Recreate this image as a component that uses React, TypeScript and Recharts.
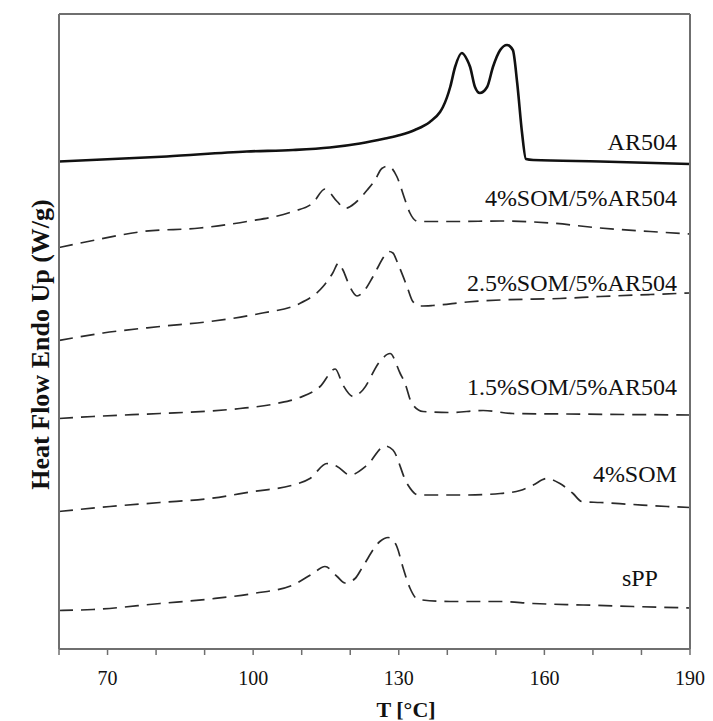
import { LineChart, Line, XAxis, YAxis, ReferenceDot } from "recharts";

// x axis: temperature, °C
const xTicks = [60, 70, 80, 90, 100, 110, 120, 130, 140, 150, 160, 170, 180, 190];
const xTickLabels = [70, 100, 130, 160, 190];

// DSC heating traces [T, heat flow], arbitrary units, stacked with offsets
const ar504: [number, number][] = [
  [60, 97.5], [82.2, 98.5], [98.7, 99.5], [108.2, 99.8], [115.8, 100.3],
  [122, 101.1], [127.2, 102.1], [130.3, 102.8], [133.3, 103.8], [136.4, 105.4],
  [138.5, 107.4], [139.1, 108.4], [140.6, 112.4], [141.6, 116.4], [143, 119.2],
  [144.1, 117.8], [144.7, 116.4], [145.7, 112.4], [146.7, 111.2], [148.2, 112.4],
  [149.4, 116.4], [150.9, 119.8], [152.3, 120.8], [153.5, 119.8], [154.4, 113.2],
  [155.4, 103.2], [156.2, 98], [157.7, 97.8], [171.5, 97.5], [190, 97],
];

const som4ar5: [number, number][] = [
  [60, 80.3], [67, 81.7], [77.3, 83.5], [89, 84.2], [98.7, 85.5],
  [108.2, 87.5], [112.3, 89.2], [114.8, 92], [117.3, 89.5], [118.9, 88.1],
  [121, 89.2], [123.5, 91.8], [125.1, 93.8], [126.5, 96.1], [127.8, 96.6],
  [129.6, 94.5], [131.3, 89.8], [132.3, 87.2], [134, 85.5], [142, 85.5],
  [150.9, 85.6], [161.2, 85.2], [171.5, 84.2], [181.8, 83.5], [190, 83],
];

const som25ar5: [number, number][] = [
  [60, 61.7], [69.1, 63.2], [80.8, 64.5], [91.1, 65.5], [101.4, 67.1],
  [109.6, 69.1], [114.4, 72.5], [116.4, 75.2], [117.6, 77.2], [118.5, 75.8],
  [119.9, 72.5], [121.4, 70.6], [123, 71.8], [124.7, 74.5], [127.2, 78.8],
  [128, 79.5], [128.8, 79.2], [129.8, 77.1], [131.7, 72.5], [132.9, 69.5],
  [134.4, 68.6], [137, 68.7], [144.1, 69.4], [150.9, 69.8], [163.2, 70.1],
  [171.5, 70.5], [181.8, 70.9], [190, 71.2],
];

const som15ar5: [number, number][] = [
  [60, 46.1], [67, 46.5], [80.8, 47.1], [91.1, 47.6], [97.3, 48.1],
  [104.9, 49.1], [109.6, 50.3], [113.8, 52.5], [116.9, 56], [118.5, 52.8],
  [120.6, 50.5], [122.6, 51.8], [126.1, 57.5], [128.2, 59.1], [130.3, 55.1],
  [131.3, 53.1], [132.7, 49.1], [135, 47.5], [140.6, 47.3], [147.4, 47.7],
  [153.5, 47.1], [164.7, 47], [190, 46.8],
];

const som4: [number, number][] = [
  [60, 27.5], [70.5, 28.5], [80.8, 29.3], [91.1, 30.1], [100, 31.5],
  [108.2, 32.8], [111.7, 34.1], [115.2, 37.1], [117.3, 36.5], [119.9, 34.8],
  [123.5, 36.8], [127.2, 40.6], [128.8, 39.8], [131.7, 33.1], [134, 30.8],
  [144.1, 30.8], [150.9, 31.1], [155, 31.7], [157.7, 32.8], [160.5, 34.1],
  [163.2, 33.1], [165.9, 31.1], [167.7, 29.5], [171.5, 29.3], [178.3, 28.9],
  [185.3, 28.5], [190, 28.3],
];

const spp: [number, number][] = [
  [60, 7.7], [67, 7.9], [80.8, 9.1], [91.1, 10], [100, 11.1],
  [108.2, 12.8], [112.3, 15.1], [114.8, 16.5], [117.3, 14.5], [118.9, 13.2],
  [121, 14.1], [122.6, 16.5], [126.1, 21.5], [127.8, 22.3], [128.8, 21.8],
  [129.6, 20.5], [130.9, 16.2], [132.3, 12.2], [134, 9.9], [140.6, 9.5],
  [150.9, 9.5], [157.7, 9.1], [168, 8.8], [178.3, 8.5], [190, 8.2],
];

const rows = (pts: [number, number][]) => pts.map(([t, v]) => ({ t, v }));

const serif = "'Liberation Serif', 'Times New Roman', serif";
const frame = "#6f6f6f";

const traces = [
  { name: "AR504", data: ar504, solid: true, tagT: 187.3, tagV: 101.4 },
  { name: "4%SOM/5%AR504", data: som4ar5, solid: false, tagT: 187.3, tagV: 90.2 },
  { name: "2.5%SOM/5%AR504", data: som25ar5, solid: false, tagT: 187.3, tagV: 73.2 },
  { name: "1.5%SOM/5%AR504", data: som15ar5, solid: false, tagT: 187.3, tagV: 52.4 },
  { name: "4%SOM", data: som4, solid: false, tagT: 187.3, tagV: 35 },
  { name: "sPP", data: spp, solid: false, tagT: 183.4, tagV: 14.2 },
];

export default function App() {
  return (
    <div style={{ position: "absolute", left: 0, top: 0, background: "#fff" }}>
      <LineChart
        width={713}
        height={721}
        margin={{ top: 13, right: 22, left: 58, bottom: 0 }}
      >
        <XAxis
          dataKey="t"
          type="number"
          domain={[60, 190]}
          ticks={xTicks}
          interval={0}
          allowDataOverflow
          height={72}
          axisLine={{ stroke: frame, strokeWidth: 2 }}
          tickLine={{ stroke: frame, strokeWidth: 1.5 }}
          tickSize={6}
          tickMargin={16}
          tick={{ fontSize: 20, fill: "#111", fontFamily: serif }}
          tickFormatter={(v: number) => (xTickLabels.includes(v) ? String(v) : "")}
          label={{
            content: (p: any) => (
              <text
                x={p.viewBox.x + p.viewBox.width * 0.55}
                y={p.viewBox.y + 68}
                textAnchor="middle"
                fontFamily={serif}
                fontWeight="bold"
                fontSize={22}
                fill="#111"
              >
                T [°C]
              </text>
            ),
          }}
        />
        <XAxis
          xAxisId="top"
          orientation="top"
          type="number"
          domain={[60, 190]}
          height={1}
          tick={false}
          tickLine={false}
          axisLine={{ stroke: frame, strokeWidth: 2 }}
        />
        <YAxis
          type="number"
          domain={[0, 127]}
          allowDataOverflow
          width={1}
          tick={false}
          tickLine={false}
          axisLine={{ stroke: frame, strokeWidth: 2 }}
          label={{
            content: (p: any) => {
              const x = p.viewBox.x + p.viewBox.width - 10;
              const y = p.viewBox.y + p.viewBox.height / 2 + 13;
              return (
                <text
                  x={x}
                  y={y}
                  transform={`rotate(-90, ${x}, ${y})`}
                  textAnchor="middle"
                  fontFamily={serif}
                  fontWeight="bold"
                  fontSize={26}
                  fill="#111"
                >
                  Heat Flow Endo Up (W/g)
                </text>
              );
            },
          }}
        />
        <YAxis
          yAxisId="right"
          orientation="right"
          type="number"
          domain={[0, 127]}
          width={1}
          tick={false}
          tickLine={false}
          axisLine={{ stroke: frame, strokeWidth: 2 }}
        />
        {traces.map((s) => (
          <Line
            key={s.name}
            data={rows(s.data)}
            dataKey="v"
            name={s.name}
            type="monotone"
            stroke={s.solid ? "#111" : "#2a2a2a"}
            strokeWidth={s.solid ? 2.6 : 1.7}
            strokeDasharray={s.solid ? undefined : "14 8"}
            dot={false}
            activeDot={false}
            isAnimationActive={false}
          />
        ))}
        {traces.map((s) => (
          <ReferenceDot
            key={"tag-" + s.name}
            x={s.tagT}
            y={s.tagV}
            r={1}
            fill="none"
            stroke="none"
            label={{
              content: (p: any) => (
                <text
                  x={p.viewBox.x + 1}
                  y={p.viewBox.y + 1}
                  dy="0.34em"
                  textAnchor="end"
                  fontFamily={serif}
                  fontSize={24}
                  fill="#111"
                >
                  {s.name}
                </text>
              ),
            }}
          />
        ))}
      </LineChart>
    </div>
  );
}
